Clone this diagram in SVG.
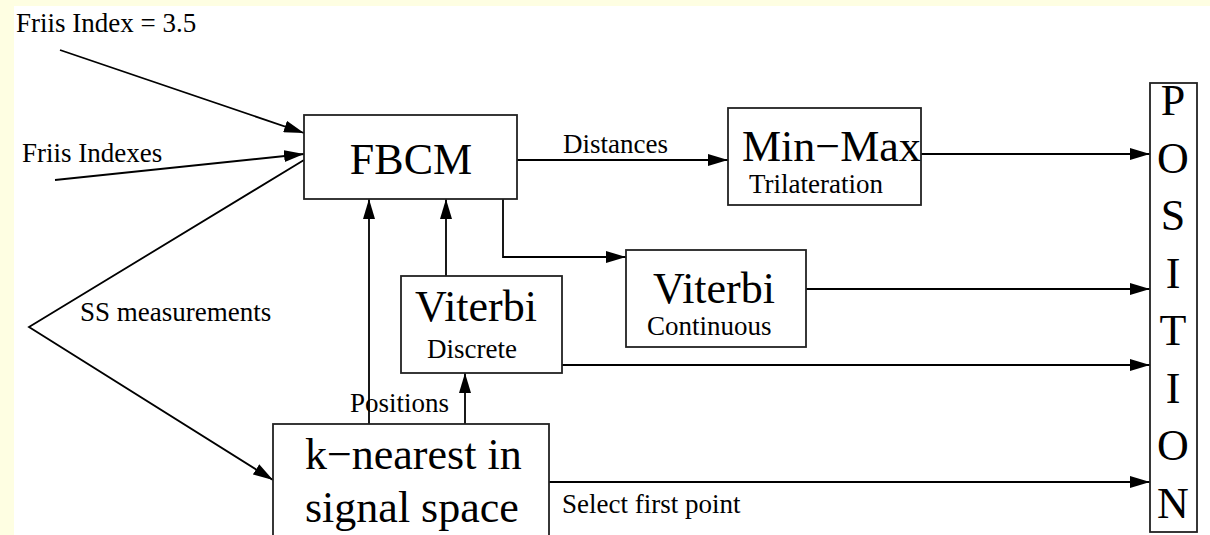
<svg xmlns="http://www.w3.org/2000/svg" width="1210" height="535" viewBox="0 0 1210 535">
<style>
text{font-family:"Liberation Serif","Times New Roman",serif;fill:#000}
.s{font-size:27px}
.b{font-size:44px}
.box{fill:none;stroke:#222;stroke-width:1.8}
.ln{fill:none;stroke:#000;stroke-width:1.8}
</style>
<defs>
<marker id="ah" markerUnits="userSpaceOnUse" markerWidth="20" markerHeight="12" refX="20" refY="6" orient="auto">
<path d="M0,0 L20,6 L0,12 z" fill="#000"/>
</marker>
</defs>
<rect x="0" y="0" width="1210" height="535" fill="#fefee2"/>
<rect x="14" y="6" width="1196" height="529" fill="#fff"/>
<g id="labels">
<text class="s" x="16" y="32">Friis Index = 3.5</text>
<text class="s" x="22" y="162">Friis Indexes</text>
<text class="s" x="80" y="321">SS measurements</text>
<text class="s" x="563" y="153">Distances</text>
<text class="s" x="350" y="412">Positions</text>
<text class="s" x="562" y="513">Select first point</text>
</g>
<g id="connectors">
<line class="ln" x1="60" y1="50" x2="304" y2="133" marker-end="url(#ah)"/>
<line class="ln" x1="55" y1="180" x2="304" y2="154" marker-end="url(#ah)"/>
<polyline class="ln" points="304,160 29,327 273,480" marker-end="url(#ah)"/>
<line class="ln" x1="517" y1="160" x2="728" y2="160" marker-end="url(#ah)"/>
<polyline class="ln" points="503,199 503,257 626,257" marker-end="url(#ah)"/>
<line class="ln" x1="369" y1="424" x2="369" y2="199" marker-end="url(#ah)"/>
<line class="ln" x1="446" y1="276" x2="446" y2="199" marker-end="url(#ah)"/>
<line class="ln" x1="465" y1="424" x2="465" y2="373" marker-end="url(#ah)"/>
<line class="ln" x1="921" y1="154" x2="1150" y2="154" marker-end="url(#ah)"/>
<line class="ln" x1="806" y1="289" x2="1150" y2="289" marker-end="url(#ah)"/>
<line class="ln" x1="562" y1="365" x2="1150" y2="365" marker-end="url(#ah)"/>
<line class="ln" x1="549" y1="482" x2="1150" y2="482" marker-end="url(#ah)"/>
</g>
<g id="fbcm">
<rect class="box" x="304" y="115" width="213" height="84"/>
<text class="b" x="411" y="174" text-anchor="middle">FBCM</text>
</g>
<g id="minmax">
<rect class="box" x="728" y="108" width="193" height="97"/>
<text class="b" x="742" y="161">Min−Max</text>
<text class="s" x="749" y="193">Trilateration</text>
</g>
<g id="viterbi-continuous">
<rect class="box" x="626" y="250" width="180" height="97"/>
<text class="b" x="653" y="303">Viterbi</text>
<text class="s" x="647" y="335">Continuous</text>
</g>
<g id="viterbi-discrete">
<rect class="box" x="401" y="276" width="161" height="97"/>
<text class="b" x="415" y="321">Viterbi</text>
<text class="s" x="427" y="358">Discrete</text>
</g>
<g id="knearest">
<rect class="box" x="273" y="424" width="276" height="120"/>
<text class="b" x="305" y="469">k−nearest in</text>
<text class="b" x="305" y="522">signal space</text>
</g>
<g id="position">
<rect class="box" x="1150" y="83" width="47" height="449"/>
<text class="b" x="1173" y="115" text-anchor="middle">P</text>
<text class="b" x="1173" y="172.5" text-anchor="middle">O</text>
<text class="b" x="1173" y="230" text-anchor="middle">S</text>
<text class="b" x="1173" y="287.5" text-anchor="middle">I</text>
<text class="b" x="1173" y="345" text-anchor="middle">T</text>
<text class="b" x="1173" y="402.5" text-anchor="middle">I</text>
<text class="b" x="1173" y="460" text-anchor="middle">O</text>
<text class="b" x="1173" y="517.5" text-anchor="middle">N</text>
</g>
</svg>
